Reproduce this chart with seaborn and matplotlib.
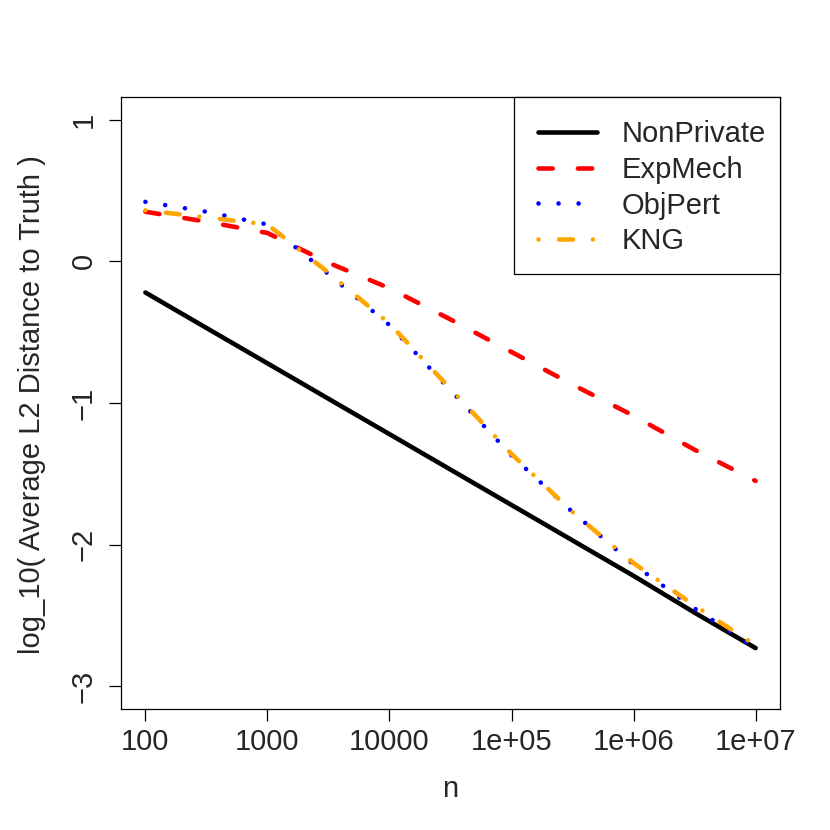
import numpy as np
import pandas as pd
import matplotlib
matplotlib.use("Agg")
import matplotlib.pyplot as plt
from matplotlib.ticker import NullLocator
from matplotlib.patches import Rectangle
import seaborn as sns

# -----------------------------
# data
# -----------------------------
n_values = [100, 316, 1000, 3162, 10000, 31623, 100000, 316228, 1000000, 3162278, 10000000]

non_private = [-0.22, -0.47, -0.72, -0.97, -1.22, -1.47, -1.72, -1.97, -2.22, -2.48, -2.73]
exp_mech = [0.35, 0.28, 0.20, -0.01, -0.19, -0.41, -0.64, -0.87, -1.09, -1.33, -1.55]
obj_pert = [0.42, 0.35, 0.26, -0.09, -0.45, -0.91, -1.37, -1.77, -2.14, -2.45, -2.73]
kng = [0.36, 0.31, 0.26, -0.08, -0.44, -0.90, -1.36, -1.77, -2.13, -2.43, -2.71]

series_names = ["NonPrivate", "ExpMech", "ObjPert", "KNG"]
series_values = [non_private, exp_mech, obj_pert, kng]
series_colors = ["black", "red", "blue", "orange"]
# dash patterns in linewidth units (None = solid)
series_dashes = [None, (3.1, 5.5), (0.01, 4.36), (0.01, 4.5, 3.0, 4.34)]

x_tick_values = [100, 1000, 10000, 100000, 1000000, 10000000]
x_tick_labels = ["100", "1000", "10000", "1e+05", "1e+06", "1e+07"]
y_tick_values = [-3, -2, -1, 0, 1]
y_tick_labels = ["\u22123", "\u22122", "\u22121", "0", "1"]

df = pd.DataFrame({
    "n": n_values * len(series_names),
    "value": [v for vals in series_values for v in vals],
    "method": [name for name in series_names for _ in n_values],
})

# -----------------------------
# style
# -----------------------------
sns.set_style("white")
plt.rcParams["font.family"] = ["Liberation Sans", "DejaVu Sans"]
plt.rcParams["lines.solid_capstyle"] = "round"
plt.rcParams["lines.dash_capstyle"] = "round"

W = 830
fig = plt.figure(figsize=(8.3, 8.3), dpi=100)
ax = fig.add_axes([121 / W, 121 / W, 659 / W, 612 / W])

LW = 3.3
for name, color, dash in zip(series_names, series_colors, series_dashes):
    sub = df[df["method"] == name]
    sns.lineplot(data=sub, x="n", y="value", color=color, linewidth=LW,
                 label=name, ax=ax, legend=False)
    line = ax.lines[-1]
    if dash is not None:
        line.set_dashes(dash)

ax.set_xscale("log")
ax.set_xlim(10 ** 1.8, 10 ** 7.2)
ax.set_ylim(-3.16, 1.16)
ax.xaxis.set_minor_locator(NullLocator())

ax.set_xticks(x_tick_values)
ax.set_xticklabels(x_tick_labels, fontsize=21)
ax.set_yticks(y_tick_values)
ax.set_yticklabels(y_tick_labels, fontsize=21, rotation=90, va="center")

ax.tick_params(axis="x", direction="out", length=8.6, width=0.9, color="black",
               pad=5, bottom=True)
ax.tick_params(axis="y", direction="out", length=8.6, width=0.9, color="black",
               pad=8, left=True)

for sp in ax.spines.values():
    sp.set_color("black")
    sp.set_linewidth(0.9)
    sp.set_visible(True)

ax.set_xlabel("")
ax.set_ylabel("")
fig.text(450 / W, 1 - 797 / W, "n", ha="center", va="baseline", fontsize=21)
fig.text(40 / W, 1 - 405 / W, "log_10( Average L2 Distance to Truth )",
         ha="center", va="baseline", rotation=90, rotation_mode="anchor",
         fontsize=21)

# legend box drawn separately (R-style uneven padding)
box = Rectangle((514 / W, 1 - 274 / W), 266 / W, 177 / W,
                transform=fig.transFigure, facecolor="white",
                edgecolor="black", linewidth=0.9, zorder=4.5, clip_on=False)
ax.add_patch(box)

leg = ax.legend(loc="upper left", bbox_to_anchor=(538 / W, 1 - 120.5 / W),
                bbox_transform=fig.transFigure, borderaxespad=0, fontsize=21,
                frameon=False, handlelength=2.02, handletextpad=0.86,
                borderpad=0, labelspacing=0.26)
leg.set_zorder(5)

fig.savefig("out.png", dpi=100)
